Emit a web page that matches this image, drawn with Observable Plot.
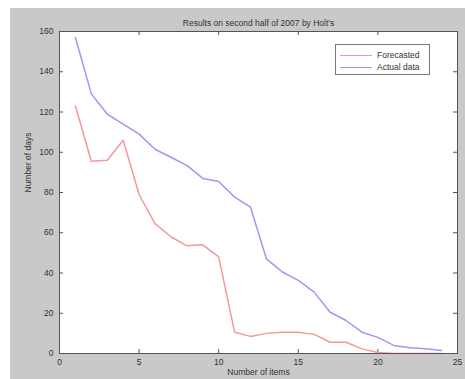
<!DOCTYPE html>
<html>
<head>
<meta charset="utf-8">
<script src="https://cdn.jsdelivr.net/npm/d3@7"></script>
<script src="https://cdn.jsdelivr.net/npm/@observablehq/plot@0.6"></script>
<style>
  html, body { margin: 0; padding: 0; background: #ffffff; }
  #wrap { position: relative; width: 465px; height: 379px; overflow: hidden; }
  #bg { position: absolute; left: 10px; top: 8px; width: 455px; height: 371px; background: #c9c9c9; }
  #chart { position: absolute; left: 0; top: 0; }
  #legend { position: absolute; left: 335px; top: 44px; width: 95px; height: 31px; background: #fff;
    border: 1px solid #777; box-sizing: border-box; font: 8.5px "Liberation Sans", Arial, sans-serif; color: #333; }
  .row { position: absolute; left: 4px; height: 10px; display: flex; align-items: center; }
  .sw { width: 32px; height: 0; border-top: 1.5px solid; margin-right: 5px; }
</style>
</head>
<body>
<div id="wrap"><div id="bg"></div><div id="chart"></div>
<div id="legend"></div></div>
<script>
const items = [1,2,3,4,5,6,7,8,9,10,11,12,13,14,15,16,17,18,19,20,21,22,23,24];
const forecasted = [123,95.5,96,106,79,64.5,58,53.5,54,48,10.6,8.5,10,10.6,10.6,9.5,5.6,5.6,2.3,0.5,0,0,0,0];
const actual = [157,129,119,114,109,101.5,97.5,93.5,87,85.5,77.7,72.7,47,40.5,36.3,30.5,20.5,16.4,10.6,8,4,2.8,2.3,1.5];
const xTicks = [0,5,10,15,20,25];
const yTicks = [0,20,40,60,80,100,120,140,160];
const seriesNames = ["Forecasted","Actual data"];
const seriesColors = ["#f29a9a","#9a9af0"];
const title = "Results on second half of 2007 by Holt's";
const xLabel = "Number of items";
const yLabel = "Number of days";

const rows = [];
items.forEach((x,i) => rows.push({x, y: forecasted[i], s: seriesNames[0]}));
items.forEach((x,i) => rows.push({x, y: actual[i], s: seriesNames[1]}));

const plot = Plot.plot({
  width: 465, height: 379,
  marginLeft: 59, marginRight: 8, marginTop: 31, marginBottom: 26,
  style: {background: "transparent", fontFamily: "'Liberation Sans', Arial, sans-serif", fontSize: "8.5px", color: "#333"},
  x: {domain: [0,25]},
  y: {domain: [0,160]},
  color: {domain: seriesNames, range: seriesColors},
  marks: [
    Plot.frame({fill: "#ffffff", stroke: null}),
    Plot.axisX(xTicks, {tickSize: 0, tickPadding: 5, label: null, fill: "#333"}),
    Plot.axisY(yTicks, {tickSize: 0, tickPadding: 6, label: null, fill: "#333"}),
    Plot.tickX(xTicks, {x: d => d, insetTop: 318, stroke: "#555"}),
    Plot.tickX(xTicks, {x: d => d, insetBottom: 318, stroke: "#555"}),
    Plot.tickY(yTicks, {y: d => d, insetRight: 394, stroke: "#555"}),
    Plot.tickY(yTicks, {y: d => d, insetLeft: 394, stroke: "#555"}),
    Plot.line(rows, {x: "x", y: "y", z: "s", stroke: "s", strokeWidth: 1.5}),
    Plot.frame({stroke: "#555", strokeWidth: 1}),
    Plot.text([title], {frameAnchor: "top", dy: -12, text: d => d, fill: "#333", fontSize: 8.5}),
    Plot.text([xLabel], {frameAnchor: "bottom", dy: 21, text: d => d, fill: "#333", fontSize: 8.5}),
    Plot.text([yLabel], {frameAnchor: "left", dx: -31, rotate: -90, text: d => d, fill: "#333", fontSize: 8.5})
  ]
});
document.getElementById("chart").appendChild(plot);

const lg = document.getElementById("legend");
seriesNames.forEach((n,i) => {
  const r = document.createElement("div");
  r.className = "row";
  r.style.top = (5 + i*12) + "px";
  const sw = document.createElement("span");
  sw.className = "sw";
  sw.style.borderTopColor = seriesColors[i];
  const t = document.createElement("span");
  t.textContent = n;
  r.appendChild(sw); r.appendChild(t);
  lg.appendChild(r);
});
</script>
</body>
</html>
